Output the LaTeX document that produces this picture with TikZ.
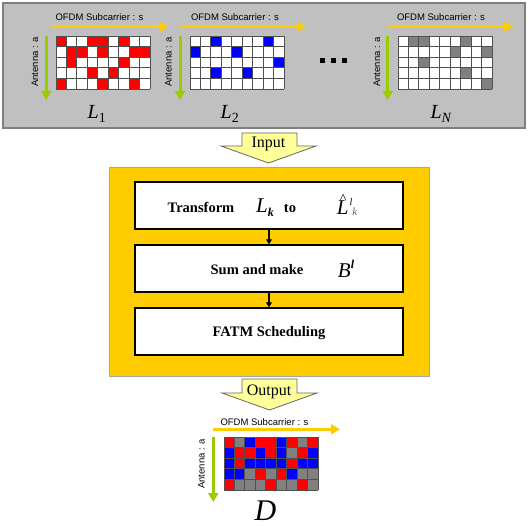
\documentclass[tikz,border=0pt]{standalone}
\usepackage{fontspec}
\setmainfont{Liberation Serif}
\setsansfont{Liberation Sans}
\usetikzlibrary{arrows.meta}
\definecolor{gold}{HTML}{FFCC00}
\definecolor{lime}{HTML}{99CC00}
\definecolor{panelgray}{HTML}{C0C0C0}
\definecolor{paneledge}{HTML}{7F7F7F}
\definecolor{cellR}{HTML}{FF0000}
\definecolor{cellB}{HTML}{0000FF}
\definecolor{cellG}{HTML}{808080}
\definecolor{cellW}{HTML}{FFFFFF}
\definecolor{gridline}{HTML}{505050}
\definecolor{pale}{HTML}{FFFF99}
\newcommand\cellgrid[3]{%
  \foreach \cc [count=\i from 0] in {#3} {%
    \pgfmathtruncatemacro\col{mod(\i,9)}%
    \pgfmathtruncatemacro\row{floor(\i/9)}%
    \fill[cell\cc] ({#1+\col*10.45},{#2+\row*10.6}) rectangle ++(10.45,10.6);
  }%
  \foreach \k in {0,...,9} {\draw[draw=gridline, line width=0.85pt] ({#1+\k*10.45},#2) -- ++(0,53);}%
  \foreach \k in {0,...,5} {\draw[draw=gridline, line width=0.85pt] (#1,{#2+\k*10.6}) -- ++(94.05,0);}%
}
\begin{document}
\begin{tikzpicture}[x=1pt,y=-1pt,
  panel/.style={rectangle, fill=panelgray, draw=paneledge, line width=1.2pt, minimum width=522pt, minimum height=125pt, inner sep=0pt},
  frame/.style={rectangle, fill=gold, draw=gray!70, line width=0.8pt, minimum width=320pt, minimum height=209pt, inner sep=0pt},
  stepbox/.style={rectangle, fill=white, draw=black, line width=1.4pt, minimum width=268pt, minimum height=47pt, inner sep=0pt},
  yarrow/.style={draw=gold, line width=3pt, -{Triangle[length=9pt,width=10pt]}},
  garrow/.style={draw=lime, line width=3pt, -{Triangle[length=9pt,width=10pt]}},
  ofdm/.style={font=\sffamily\fontsize{9.5}{11}\selectfont, anchor=base, inner sep=0pt},
  antenna/.style={font=\sffamily\fontsize{9.5}{11}\selectfont, rotate=90, inner sep=0pt},
  biglab/.style={font=\fontsize{20}{24}\selectfont\itshape, anchor=base, inner sep=0pt},
  boxtxt/.style={font=\fontsize{14.5}{16}\selectfont\bfseries, anchor=base, inner sep=0pt},
  mathtxt/.style={font=\fontsize{21}{24}\selectfont\itshape, anchor=base, inner sep=0pt},
  iolab/.style={font=\fontsize{16}{18}\selectfont, anchor=base, inner sep=0pt},
  bigarrow/.style={fill=pale, draw=gray!80!black, line width=0.8pt, line join=miter},
  dot/.style={rectangle, fill=black, minimum size=5pt, inner sep=0pt},
  flow/.style={draw=black, line width=1.3pt, -{Triangle[length=5pt,width=6pt]}}
]
\useasboundingbox (0,0) rectangle (529,526);
\fill[white] (0,0) rectangle (529,526);

% top panel
\node[panel] (panel) at (264,65.5) {};

% grids
\cellgrid{56}{36}{R,W,W,R,R,W,R,W,W,
W,R,R,W,R,W,W,R,R,
W,R,W,W,W,W,R,W,W,
W,W,W,R,W,R,W,W,W,
R,W,W,W,R,W,W,R,W}
\cellgrid{190}{36}{W,W,B,W,W,W,W,B,W,
B,W,W,W,B,W,W,W,W,
W,W,W,W,W,W,W,W,B,
W,W,B,W,W,B,W,W,W,
W,W,W,W,W,W,W,W,W}
\cellgrid{398}{36}{W,G,G,W,W,W,G,W,W,
W,W,W,W,W,G,W,W,G,
W,W,G,W,W,W,W,W,W,
W,W,W,W,W,W,G,W,W,
W,W,W,W,W,W,W,W,G}

% subcarrier arrows and labels (top)
\coordinate (ya1s) at (51,26.7);  \coordinate (ya1e) at (168,26.7);
\coordinate (ya2s) at (180,26.7); \coordinate (ya2e) at (306,26.7);
\coordinate (ya3s) at (388,26.7); \coordinate (ya3e) at (513,26.7);
\draw[yarrow] (ya1s) -- (ya1e);
\draw[yarrow] (ya2s) -- (ya2e);
\draw[yarrow] (ya3s) -- (ya3e);
\node[ofdm] (o1) at (99.5,21) {OFDM Subcarrier : s};
\node[ofdm] (o2) at (235,21) {OFDM Subcarrier : s};
\node[ofdm] (o3) at (441,21) {OFDM Subcarrier : s};

% antenna arrows and labels (top)
\coordinate (ga1s) at (46.3,36); \coordinate (ga1e) at (46.3,100);
\coordinate (ga2s) at (180,36);  \coordinate (ga2e) at (180,100);
\coordinate (ga3s) at (387.7,36); \coordinate (ga3e) at (387.7,100);
\draw[garrow] (ga1s) -- (ga1e);
\draw[garrow] (ga2s) -- (ga2e);
\draw[garrow] (ga3s) -- (ga3e);
\node[antenna] (a1) at (35,62) {Antenna : a};
\node[antenna] (a2) at (168.5,62) {Antenna : a};
\node[antenna] (a3) at (377,62) {Antenna : a};

% matrix labels
\node[biglab] (l1) at (97,119) {L\textsubscript{\upshape 1}};
\node[biglab] (l2) at (230,119) {L\textsubscript{\upshape 2}};
\node[biglab] (ln) at (441,119) {L\textsubscript{N}};

% ellipsis dots
\node[dot] (d1) at (322,61) {};
\node[dot] (d2) at (333,61) {};
\node[dot] (d3) at (344,61) {};

% input arrow
\filldraw[bigarrow] (242,133) -- (297,133) -- (297,146) -- (316,146) -- (268.5,163) -- (221,146) -- (242,146) -- cycle;
\node[iolab] (input) at (268.5,148) {Input};

% orange frame with steps
\node[frame] (frame) at (269,271.5) {};
\node[stepbox] (t1) at (269,205.5) {};
\node[stepbox] (t2) at (269,268.5) {};
\node[stepbox] (t3) at (269,331.5) {};
\draw[flow] (t1.south) -- (t2.north);
\draw[flow] (t2.south) -- (t3.north);

\node[boxtxt] (tr) at (201,212.5) {Transform};
\node[mathtxt] (lk) at (265,213) {L\raisebox{-4pt}{\fontsize{12}{12}\selectfont\bfseries k}};
\node[boxtxt] (to) at (290,212.5) {to};
\node[mathtxt] (lhat) at (347,214.5) {\rlap{\hspace{3pt}\raisebox{10.5pt}{\upshape\fontsize{14}{14}\selectfont\^{}}}L\hspace{1pt}\raisebox{9pt}{\fontsize{10}{10}\selectfont l}\raisebox{-1pt}{\fontsize{11}{11}\selectfont\color{gray!80!black}k}};

\node[boxtxt] (sum) at (257,274.5) {Sum and make};
\node[mathtxt] (bl) at (346,277.5) {B\raisebox{9pt}{\fontsize{12}{12}\selectfont\bfseries l}};

\node[boxtxt] (fatm) at (269,336.5) {FATM Scheduling};

% output arrow
\filldraw[bigarrow] (242,379) -- (297,379) -- (297,393) -- (317,393) -- (269.5,410) -- (222,393) -- (242,393) -- cycle;
\node[iolab] (output) at (269,395) {Output};

% output matrix D
\cellgrid{224}{437}{R,G,B,R,R,B,R,G,R,
B,R,R,B,R,B,G,R,B,
B,R,B,B,B,B,R,B,B,
B,B,G,R,G,R,B,G,G,
R,G,G,G,R,G,G,R,G}
\coordinate (ya4s) at (213,429.3); \coordinate (ya4e) at (340,429.3);
\draw[yarrow] (ya4s) -- (ya4e);
\node[ofdm] (o4) at (264.5,425) {OFDM Subcarrier : s};
\coordinate (ga4s) at (213.3,437); \coordinate (ga4e) at (213.3,502);
\draw[garrow] (ga4s) -- (ga4e);
\node[antenna] (a4) at (201.5,464) {Antenna : a};
\node[font=\fontsize{30}{32}\selectfont\itshape, anchor=base, inner sep=0pt] (dlab) at (265.5,520) {D};
\end{tikzpicture}
\end{document}
